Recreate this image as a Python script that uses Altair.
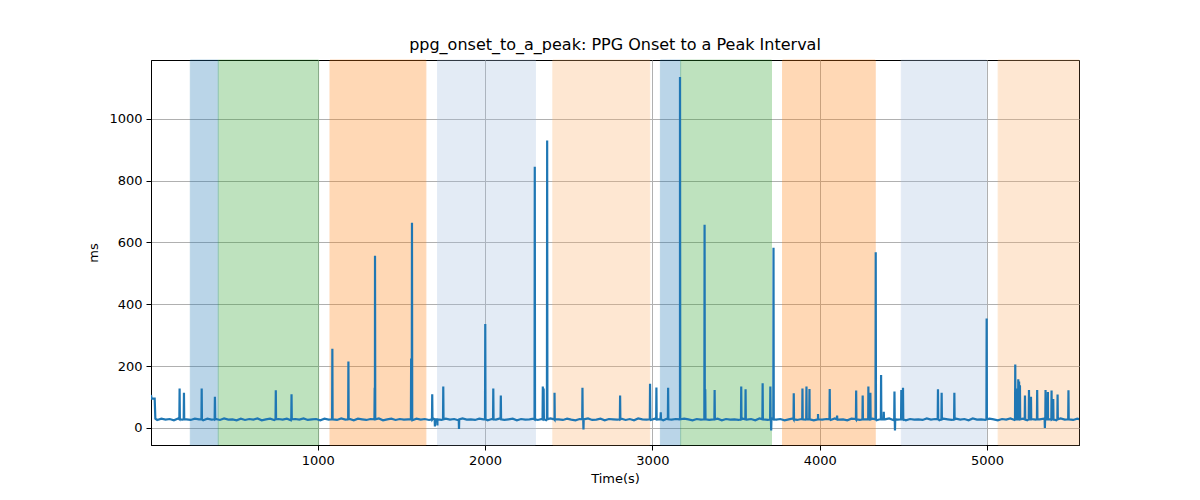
import altair as alt
import pandas as pd

# Shaded intervals (start, end, colour)
band_start = [238, 405, 1073, 1716, 2405, 3048, 3169, 3778, 4488, 5067]
band_end = [405, 1005, 1646, 2301, 2984, 3169, 3712, 4332, 4996, 5550]
band_color = ["#1f77b4", "#2ca02c", "#ff7f0e", "#a5c0e1", "#fcb26c",
              "#1f77b4", "#2ca02c", "#ff7f0e", "#a5c0e1", "#fcb26c"]

# Start segment (time s, ms)
start_t = [3, 6, 25, 29]
start_v = [107, 95, 95, 30]

# Baseline samples every 25 s from 40 s (ms)
base_v = [26, 30, 27, 29, 25, 31, 27, 28, 26, 30,
          28, 25, 30, 27, 29, 26, 31, 27, 28, 25,
          30, 26, 29, 27, 31, 25, 28, 30, 26, 29,
          27, 30, 25, 29, 27, 31, 26, 28, 29, 25,
          30, 27, 28, 26, 31, 27, 29, 25, 30, 28,
          26, 29, 27, 31, 25, 28, 30, 26, 29, 27,
          28, 25, 30, 27, 29, 26, 31, 28, 26, 30,
          27, 29, 25, 31, 27, 28, 26, 30, 28, 25,
          29, 27, 31, 26, 28, 30, 25, 29, 27, 28,
          30, 26, 29, 25, 31, 27, 28, 26, 30, 27,
          25, 29, 28, 31, 26, 27, 30, 25, 29, 28,
          27, 30, 26, 29, 25, 31, 28, 27, 26, 30,
          28, 25, 31, 27, 29, 26, 30, 28, 25, 29,
          27, 31, 26, 28, 30, 25, 29, 27, 28, 26,
          30, 27, 29, 25, 31, 28, 26, 30, 27, 29,
          25, 28, 31, 26, 29, 27, 30, 25, 28, 27,
          29, 26, 31, 27, 28, 25, 30, 29, 26, 28,
          27, 30, 25, 29, 28, 31, 26, 27, 30, 25,
          29, 27, 28, 26, 31, 27, 29, 25, 30, 28,
          26, 30, 27, 29, 25, 31, 27, 28, 26, 30,
          28, 25, 29, 27, 31, 26, 28, 30, 25, 29,
          27, 28, 30, 26, 29, 25, 31, 27, 28, 26,
          30, 27, 29, 25, 28, 31, 26, 29, 27, 28]
base_t = [40 + 25 * i for i in range(len(base_v))]

# Spikes / dips (time s, ms)
spike_t = [174, 200, 306, 385, 749, 843, 1087, 1183, 1340, 1342, 1558, 1563,
           1684, 1700, 1715, 1750, 1844, 2001, 2049, 2094, 2297, 2345, 2350,
           2371, 2415, 2582, 2588, 2807, 2986, 3024, 3050, 3094, 3165, 3312,
           3316, 3372, 3531, 3557, 3659, 3705, 3710, 3724, 3845, 3897, 3921,
           3939, 3990, 4060, 4104, 4218, 4257, 4291, 4303, 4335, 4367, 4383,
           4447, 4450, 4488, 4498, 4707, 4729, 4805, 4998, 5169, 5177, 5187,
           5192, 5197, 5227, 5251, 5263, 5300, 5346, 5350, 5364, 5386, 5396,
           5422, 5487]
spike_v = [128, 114, 128, 101, 122, 109, 256, 215, 130, 557, 225, 664,
           109, 5, 8, 134, -3, 336, 128, 105, 845, 134, 128,
           930, 114, 130, -5, 105, 143, 131, 51, 130, 1135, 657,
           125, 123, 134, 125, 145, 134, -8, 583, 112, 128, 134,
           126, 45, 126, 40, 121, 105, 134, 114, 568, 171, 52,
           118, -8, 123, 130, 125, 114, 114, 354, 205, 128, 158,
           150, 138, 105, 123, 101, 123, 0, 123, 116, 121, 94,
           108, 122]
spike_base = 28

rows = [{"t": t, "v": v} for t, v in zip(start_t, start_v)]
rows += [{"t": t, "v": v} for t, v in zip(base_t, base_v)]
for t, v in zip(spike_t, spike_v):
    rows.append({"t": t - 1.5, "v": spike_base})
    rows.append({"t": t, "v": v})
    rows.append({"t": t + 1.5, "v": spike_base})
line_df = pd.DataFrame(rows).sort_values("t").reset_index(drop=True)
line_df["order"] = range(len(line_df))

band_df = pd.DataFrame({"s": band_start, "e": band_end, "c": band_color})

W, H = 928, 385
xscale = alt.Scale(domain=[3, 5550], nice=False, zero=False)
yscale = alt.Scale(domain=[-55, 1190], nice=False, zero=False)

bands = alt.Chart(band_df).mark_rect(opacity=0.3, strokeWidth=1).encode(
    x=alt.X("s:Q", scale=xscale,
            axis=alt.Axis(title="Time(s)", values=[1000, 2000, 3000, 4000, 5000],
                          format="d", grid=True)),
    x2="e:Q",
    y=alt.value(0),
    y2=alt.value(H),
    fill=alt.Fill("c:N", scale=None),
    stroke=alt.Stroke("c:N", scale=None),
)

line = alt.Chart(line_df).mark_line(color="#1f77b4", strokeWidth=2.2, clip=True).encode(
    x=alt.X("t:Q", scale=xscale),
    y=alt.Y("v:Q", scale=yscale,
            axis=alt.Axis(title="ms", values=[0, 200, 400, 600, 800, 1000],
                          format="d", grid=True)),
    order="order:Q",
)

chart = alt.layer(bands, line).properties(
    width=W, height=H,
    title=alt.TitleParams("ppg_onset_to_a_peak: PPG Onset to a Peak Interval",
                          font="DejaVu Sans", fontSize=16, fontWeight="normal",
                          color="black", offset=7, anchor="middle"),
    autosize=alt.AutoSizeParams(type="none"),
    padding={"left": 143, "top": 52, "right": 113, "bottom": 40},
).configure_axis(
    labelFont="DejaVu Sans", labelFontSize=13, labelColor="black",
    titleFont="DejaVu Sans", titleFontSize=13, titleFontWeight="normal",
    titleColor="black", tickColor="black", tickSize=5, labelPadding=4,
    domainColor="black", gridColor="#b0b0b0", gridWidth=1,
).configure_axisY(titlePadding=8).configure_axisX(titlePadding=5).configure_view(
    stroke="black", strokeWidth=1
)

chart.save("out.html", embed_options={"renderer": "svg", "actions": False})
